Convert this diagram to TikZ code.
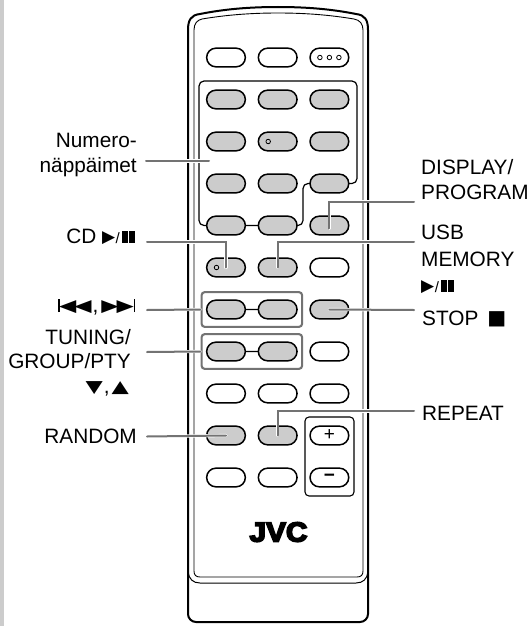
\documentclass[tikz,border=0pt]{standalone}
\usepackage{fontspec}
\setmainfont{Liberation Sans}
\newfontfamily\symfont{DejaVu Sans}
\newfontfamily\logofont[BoldFeatures={FakeBold=6}]{Liberation Sans}
\usepackage{graphicx}
\usepackage{xcolor}
\usepackage{tikz}
\usetikzlibrary{shapes,positioning,fit}
\definecolor{keygray}{gray}{0.8}
\definecolor{leadgray}{gray}{0.45}
\newcommand{\glyph}[1]{\raisebox{1pt}{\symfont\fontsize{17}{17}\selectfont #1}}
\newcommand{\wideglyph}[1]{\scalebox{1.32}[1]{\glyph{#1}}}
\newcommand{\bars}{\rule{5.4pt}{12pt}\kern1.6pt\rule{5.4pt}{12pt}}
\newcommand{\playpause}{\glyph{▶}\kern0.5pt{\fontsize{15}{15}\selectfont /}\kern2.5pt\bars}
\newcommand{\skipsym}{\rule{1.3pt}{13pt}\kern-0.5pt\wideglyph{◀}\kern-2pt\wideglyph{◀}\kern1pt,\kern3pt\wideglyph{▶}\kern-2pt\wideglyph{▶}\kern-0.5pt\rule{1.3pt}{13pt}}

\begin{document}
\begin{tikzpicture}[
    x=1pt, y=-1pt,
    node distance=23.3pt and 13pt,
    key/.style={rounded rectangle, draw, line width=1.5pt, minimum width=38.7pt, minimum height=18.7pt, inner sep=0pt, outer sep=0pt, font=\fontsize{19}{19}\selectfont},
    keyg/.style={key, fill=keygray},
    dot/.style={circle, draw, line width=0.8pt, minimum size=4.5pt, inner sep=0pt},
    link/.style={line width=1.2pt, rounded corners=5pt},
    leader/.style={draw=white, double=leadgray, double distance=2pt, line width=0.6pt, line cap=round},
    markbox/.style={draw=leadgray, line width=2.1pt, rounded corners=3pt, inner xsep=5pt, inner ysep=8pt},
    lbl/.style={font=\fontsize{20.8}{24.5}\selectfont, inner sep=0pt},
    lblr/.style={lbl, anchor=base east, align=right},
    lbll/.style={lbl, anchor=base west, align=left}
]
\useasboundingbox (0,0) rectangle (532,626);
\fill[keygray] (0,0) rectangle (4,626);

% case
\draw[line width=2pt, rounded corners=8pt] (188,575) -- (188,622) -- (368,622) -- (368,575);
\draw[line width=2pt] (188,575) -- (188,30) .. controls (188,20) and (191,15) .. (200,14) .. controls (225,9) and (250,7) .. (278,7) .. controls (306,7) and (331,9) .. (356,14) .. controls (365,15) and (368,20) .. (368,30) -- (368,575);
\draw[line width=0.9pt] (194,571) .. controls (194,575) and (196,577) .. (200,577) -- (357,577) .. controls (361,577) and (363,575) .. (363,571) -- (363,30) .. controls (363,24) and (360,20) .. (354,19) .. controls (330,15) and (306,13) .. (278,13) .. controls (250,13) and (226,15) .. (202,19) .. controls (197,20) and (194,24) .. (194,30) -- cycle;
\draw[line width=1pt] (188,572) .. controls (189,579) and (193,583) .. (200,583) -- (356,583) .. controls (363,583) and (367,579) .. (368,572);

% keys
\node[key] (k11) at (226,57.5) {};
\node[key, right=of k11] (k12) {};
\node[key, right=of k12] (k13) {};
\node[keyg, below=of k11] (k21) {};
\node[keyg, right=of k21] (k22) {};
\node[keyg, right=of k22] (k23) {};
\node[keyg, below=of k21] (k31) {};
\node[keyg, right=of k31] (k32) {};
\node[keyg, right=of k32] (k33) {};
\node[keyg, below=of k31] (k41) {};
\node[keyg, right=of k41] (k42) {};
\node[keyg, right=of k42] (k43) {};
\node[keyg, below=of k41] (k51) {};
\node[keyg, right=of k51] (k52) {};
\node[keyg, right=of k52] (k53) {};
\node[keyg, below=of k51] (k61) {};
\node[keyg, right=of k61] (k62) {};
\node[key, right=of k62] (k63) {};
\node[keyg, below=of k61] (k71) {};
\node[keyg, right=of k71] (k72) {};
\node[keyg, right=of k72] (k73) {};
\node[keyg, below=of k71] (k81) {};
\node[keyg, right=of k81] (k82) {};
\node[key, right=of k82] (k83) {};
\node[key, below=of k81] (k91) {};
\node[key, right=of k91] (k92) {};
\node[key, right=of k92] (k93) {};
\node[keyg, below=of k91] (k101) {};
\node[keyg, right=of k101] (k102) {};
\node[key, right=of k102] (plus) {+};
\node[key, below=of k101] (k111) {};
\node[key, right=of k111] (k112) {};
\node[key, right=of k112] (minus) {\textbf{−}};

% small dots on keys
\node[dot] (d1) at ([xshift=-9.5pt]k13) {};
\node[dot] (d2) at (k13) {};
\node[dot] (d3) at ([xshift=9.5pt]k13) {};
\node[dot] (d4) at ([xshift=-9.5pt]k32) {};
\node[dot] (d5) at ([xshift=-9.5pt]k61) {};

% key groups
\coordinate (padnw) at (199,81);
\coordinate (padne) at (357,81);
\coordinate (padmid) at (303,205);
\coordinate (volnw) at (305,417);
\coordinate (volse) at (354,496);
\draw[link] (k51.west) -| (padnw) -- (padne) |- (k43.east);
\draw[link] (k43.west) -| (padmid) |- (k52.east);
\draw[link, line width=1.1pt, rounded corners=4pt] (volnw) rectangle (volse);
\draw[link] (k51) -- (k52);
\draw[link] (k71) -- (k72);
\draw[link] (k81) -- (k82);
\node[markbox, fit=(k71)(k72)] (skipbox) {};
\node[markbox, fit=(k81)(k82)] (tunebox) {};

% logo
\node[inner sep=0pt, anchor=base, font=\logofont\fontsize{27.5}{28}\selectfont\bfseries, xscale=1.08] (logo) at (278.5,541.5) {JVC};

% labels
\node[lblr] (numlbl) at (137,172) {Numero-\\näppäimet};
\node[lblr] (cdlbl) at (135,243) {CD \playpause};
\node[lblr] (skiplbl) at (135,312) {\skipsym};
\node[lblr] (tunelbl) at (131,393) {TUNING/\\GROUP/PTY\\\wideglyph{▼}\kern1pt,\kern2pt\wideglyph{▲}\kern2pt};
\node[lblr] (randlbl) at (137,443) {RANDOM};
\node[lbll] (displbl) at (421,199) {DISPLAY/\\PROGRAM};
\node[lbll] (usblbl) at (421,292) {USB\\[3pt]MEMORY\\[1pt]\playpause};
\node[lbll] (stoplbl) at (422,325) {STOP\kern9pt\raisebox{1pt}{\symfont\fontsize{20}{20}\selectfont ■}};
\node[lbll] (replbl) at (422,420) {REPEAT};

% leaders
\coordinate (numa) at (146,161);
\coordinate (numb) at (209,161);
\coordinate (cda) at (147,242);
\coordinate (skipa) at (147,310);
\coordinate (tunea) at (147,352);
\coordinate (randa) at (147,436.5);
\coordinate (dispa) at (414,201.5);
\coordinate (usba) at (414,242);
\coordinate (stopa) at (414,310);
\coordinate (repa) at (414,411);
\draw[leader] (numa) -- (numb);
\draw[leader] (cda) -| (k61.center);
\draw[leader] (skipa) -- (skipbox.west);
\draw[leader] (tunea) -- (tunebox.west);
\draw[leader] (randa) -- (k101.center);
\draw[leader] (dispa) -| ([yshift=-3pt]k53.center);
\draw[leader] (usba) -| (k62.center);
\draw[leader] (stopa) -- (k73.center);
\draw[leader] (repa) -| (k102.center);
\end{tikzpicture}
\end{document}
